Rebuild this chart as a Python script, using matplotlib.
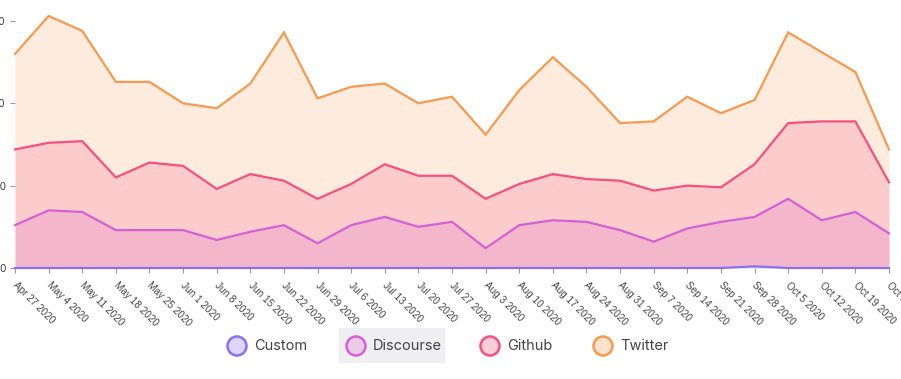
import numpy as np
import matplotlib
matplotlib.use("Agg")
import matplotlib.pyplot as plt
import matplotlib.transforms as mtransforms
from matplotlib.patches import Circle, Rectangle

weeks = ["Apr 27 2020", "May 4 2020", "May 11 2020", "May 18 2020", "May 25 2020",
         "Jun 1 2020", "Jun 8 2020", "Jun 15 2020", "Jun 22 2020", "Jun 29 2020",
         "Jul 6 2020", "Jul 13 2020", "Jul 20 2020", "Jul 27 2020", "Aug 3 2020",
         "Aug 10 2020", "Aug 17 2020", "Aug 24 2020", "Aug 31 2020", "Sep 7 2020",
         "Sep 14 2020", "Sep 21 2020", "Sep 28 2020", "Oct 5 2020", "Oct 12 2020",
         "Oct 19 2020", "Oct 26 2020"]

custom = [0] * 22 + [1, 0, 0, 0, 0]
discourse = [26, 35, 34, 23, 23, 23, 17, 22, 26, 15, 26, 31, 25, 28, 12, 26, 29, 28,
             23, 16, 24, 28, 30, 42, 29, 34, 21]
github = [46, 41, 43, 32, 41, 39, 31, 35, 27, 27, 25, 32, 31, 28, 30, 25, 28, 26,
          30, 31, 26, 21, 32, 46, 60, 55, 31]
twitter = [58, 77, 67, 58, 49, 38, 49, 55, 90, 61, 59, 49, 44, 48, 39, 57, 71, 56,
           35, 42, 54, 45, 39, 55, 42, 30, 20]

series = ["Custom", "Discourse", "Github", "Twitter"]
line_colors = ["#8a6ff2", "#d461d3", "#f74f7e", "#f59a4e"]
fill_colors = ["#ddd6fc", "#f4b6ca", "#fccccc", "#fdebdd"]
legend_fills = ["#dcd6fd", "#eacbea", "#fdccd9", "#fde1cc"]

W, H = 901, 379
fig = plt.figure(figsize=(W / 100, H / 100), dpi=100)
ax = fig.add_axes([15 / W, 111 / H, 874 / W, 252 / H])

x = np.arange(len(weeks))
data = [custom, discourse, github, twitter]
cum = np.cumsum(np.array(data, dtype=float), axis=0)
prev = np.zeros(len(weeks))
for i in range(4):
    ax.fill_between(x, prev, cum[i], color=fill_colors[i], lw=0, zorder=1)
    prev = cum[i]
for i in range(3, -1, -1):
    ax.plot(x, cum[i], color=line_colors[i], lw=1.6, zorder=3 + (i == 0),
            solid_joinstyle="miter", clip_on=False)

ax.set_xlim(0, len(weeks) - 1)
ax.set_ylim(0, cum[-1].max())
ax.set_yticks([0, 50, 100, 150])
ax.set_yticklabels(["0", "50", "100", "150"])
ax.set_xticks(x)
ax.set_xticklabels(weeks, rotation=-45, ha="left", va="top", rotation_mode="anchor",
                   family="Liberation Sans")
for s in ax.spines.values():
    s.set_visible(False)
ax.tick_params(axis="both", length=3.6, width=0.8, color="#999999",
               labelsize=7.2, labelcolor="#444444")
ax.tick_params(axis="x", pad=5)
ax.tick_params(axis="y", pad=3, labelsize=7.5)
shift = mtransforms.ScaledTranslation(3 / 100, 0, fig.dpi_scale_trans)
for lab in ax.get_xticklabels():
    lab.set_transform(lab.get_transform() + shift)

# legend
ov = fig.add_axes([0, 0, 1, 1], zorder=5)
ov.set_xlim(0, W)
ov.set_ylim(H, 0)
ov.axis("off")
ov.patch.set_alpha(0)
ov.add_patch(Rectangle((339, 328), 106, 35, color="#efeff1", lw=0))
cx = [237, 356, 490, 603]
for i, name in enumerate(series):
    ov.add_patch(Circle((cx[i], 346), 9.5, facecolor=legend_fills[i],
                        edgecolor=line_colors[i], lw=1.8))
    ov.text(cx[i] + 17, 346.5, name, fontsize=10.5, family="Inter",
            color="#444444", va="center", ha="left")

fig.savefig("out.png", dpi=100)
